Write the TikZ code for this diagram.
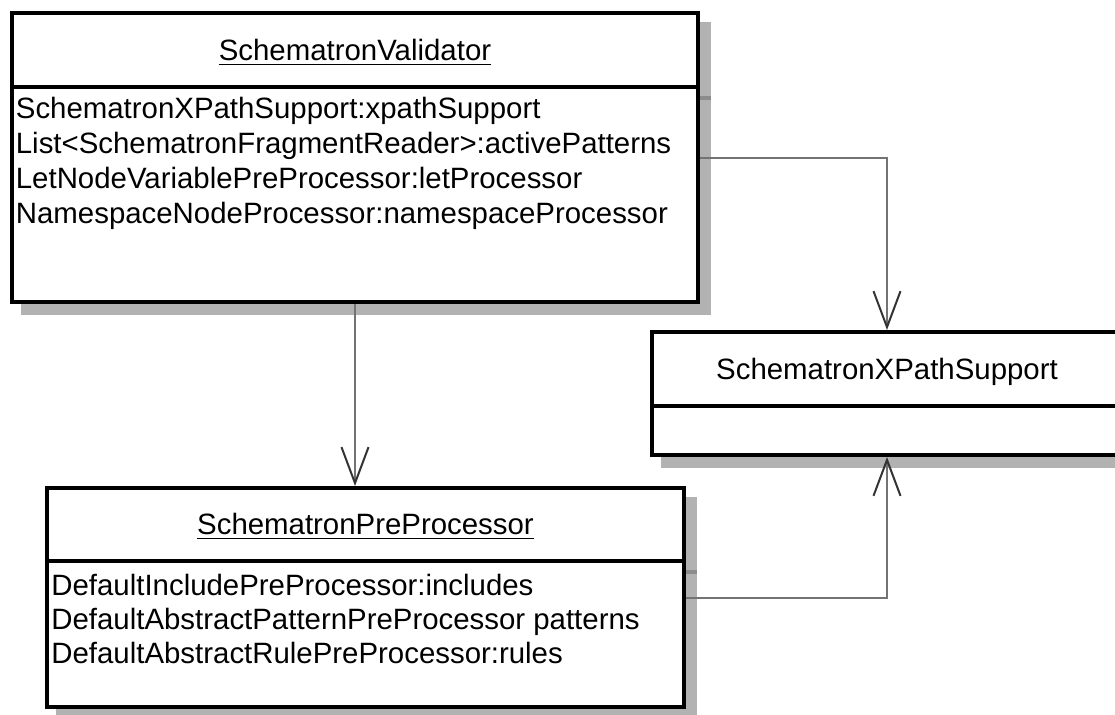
\documentclass[tikz,border=0pt]{standalone}
\usepackage{fontspec}
\setmainfont{Liberation Sans}
\usetikzlibrary{arrows.meta,backgrounds}
% class name with a thin underline just below the baseline
\newcommand{\classname}[1]{\sbox0{#1}\rlap{\usebox0}\rule[-2.2pt]{\wd0}{0.7pt}}
\begin{document}
\begin{tikzpicture}[x=0.5pt,y=-0.5pt,
  font=\fontsize{14.7}{17.5}\selectfont,
  classbox/.style={draw=black, line width=2pt, fill=white, inner sep=0pt, rectangle},
  boxshadow/.style={fill=black!30},
  sepline/.style={draw=black, line width=2pt},
  sepshadow/.style={draw=black!45, line width=2pt},
  titletext/.style={inner sep=0pt, anchor=base},
  attr/.style={inner sep=0pt, anchor=base west},
  assoc/.style={draw=black!55, line width=1pt,
    -{Straight Barb[length=18pt,width=13.5pt,color=black!80]}},
]
\useasboundingbox (0,0) rectangle (1115,715);

% class boxes
\node[classbox, minimum width=343pt, minimum height=144.5pt] (val) at (355,157.5) {};
\node[classbox, minimum width=318.5pt, minimum height=109.5pt] (pre) at (365.5,597.5) {};
\node[classbox, minimum width=235pt, minimum height=61.5pt] (xps) at (887,393.5) {};

% compartment separators
\coordinate (valsepL) at (val.west |- 0,87);
\coordinate (valsepR) at (val.east |- 0,87);
\coordinate (presepL) at (pre.west |- 0,561);
\coordinate (presepR) at (pre.east |- 0,561);
\coordinate (xpssepL) at (xps.west |- 0,406);
\coordinate (xpssepR) at (xps.east |- 0,406);
\draw[sepline] (valsepL) -- (valsepR);
\draw[sepline] (presepL) -- (presepR);
\draw[sepline] (xpssepL) -- (xpssepR);

% drop shadows
\begin{scope}[on background layer]
  \foreach \b in {val,pre,xps}{
    \fill[boxshadow] ([shift={(11,11)}]\b.north west) rectangle ([shift={(11,11)}]\b.south east);
    \draw[sepshadow] ([shift={(11,11)}]\b sepL) -- ([shift={(11,11)}]\b sepR);
  }
\end{scope}

% class names
\node[titletext] (valname) at (355,61) {\classname{SchematronValidator}};
\node[titletext] (prename) at (365.5,535) {\classname{SchematronPreProcessor}};
\node[titletext] (xpsname) at (887,380) {SchematronXPathSupport};

% attributes
\node[attr] (va1) at (15.5,119) {SchematronXPathSupport:xpathSupport};
\node[attr] (va2) at (15.5,154) {List<SchematronFragmentReader>:activePatterns};
\node[attr] (va3) at (15.5,189) {LetNodeVariablePreProcessor:letProcessor};
\node[attr] (va4) at (15.5,224) {NamespaceNodeProcessor:namespaceProcessor};

\node[attr] (pa1) at (51,596) {DefaultIncludePreProcessor:includes};
\node[attr] (pa2) at (51,630) {DefaultAbstractPatternPreProcessor patterns};
\node[attr] (pa3) at (51,664) {DefaultAbstractRulePreProcessor:rules};

% associations
\draw[assoc] (val.east |- 0,158) -| (xps.north);
\draw[assoc] (val.south) -- (val.south |- pre.north);
\draw[assoc] (pre.east |- 0,598) -| (xps.south);
\end{tikzpicture}
\end{document}
